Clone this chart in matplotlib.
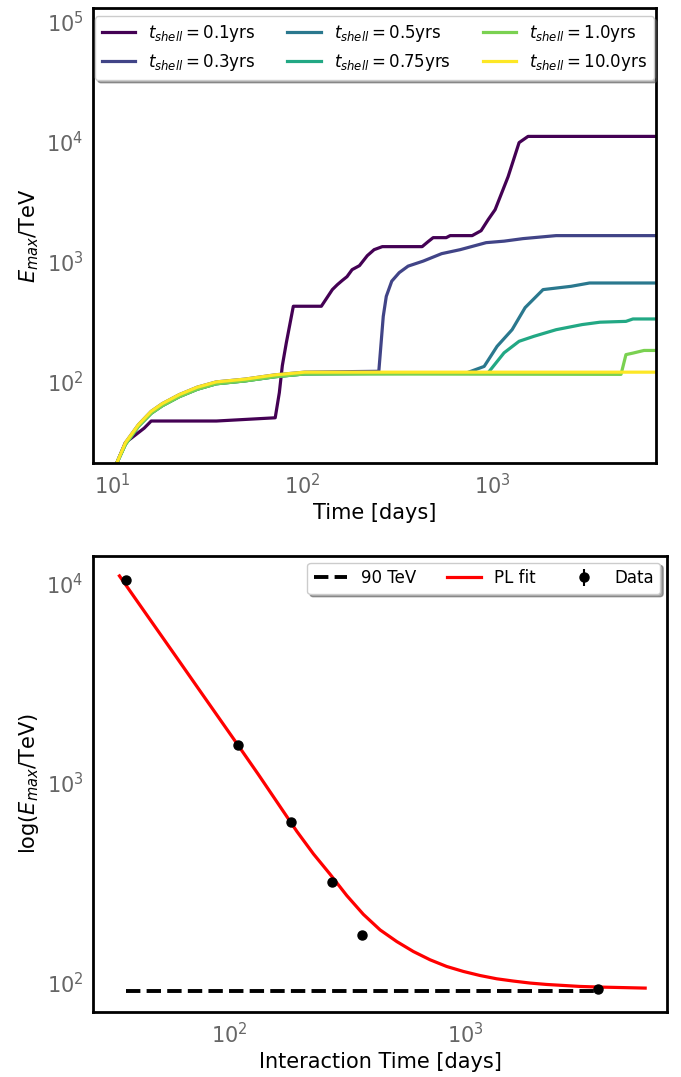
import numpy as np
import matplotlib.pyplot as plt

plt.rcParams['font.family'] = ['DejaVu Sans']
plt.rcParams['mathtext.fontset'] = 'dejavusans'

# ---------------- E_max(t) for each shell time (days, TeV) ----------------
rise_t = [10.4, 11.7, 13.7, 16.0, 18.3, 22.5, 28.0, 35.2, 50.0, 72.0, 103.0]
rise_E = [20, 31, 43.8, 56.6, 65.6, 78, 90, 99.5, 105, 114, 120]
rise_E_low = [20, 30, 42.5, 54.5, 63, 75, 86.5, 96, 101.5, 110, 116]

t_01 = [10.4, 11.7, 14.7, 16.0, 35.3, 72, 75.7, 78.5, 82.4, 89.7, 126, 144, 153,
        162, 172, 183, 200, 220, 239, 264, 428, 460, 489, 573, 601, 785, 875,
        953, 1037, 1214, 1387, 1546, 7300]
E_01 = [20, 31, 41, 47, 47, 50, 81, 136, 211, 425, 425, 585, 643, 695, 750, 858,
        926, 1122, 1259, 1334, 1334, 1468, 1585, 1585, 1648, 1648, 1812, 2239,
        2712, 5106, 9817, 11060, 11060]

t_03 = rise_t + [253, 267, 277, 296, 324, 361, 433, 542, 679, 930, 1156, 1455, 2173, 7300]
E_03 = rise_E + [122, 350, 514, 688, 810, 918, 1010, 1166, 1259, 1440, 1482, 1556, 1648, 1648]

t_05 = rise_t + [741, 908, 1062, 1274, 1492, 1855, 2604, 3260, 7300]
E_05 = rise_E_low + [119, 134, 197, 271, 414, 585, 623, 664, 664]

t_075 = rise_t + [950, 1156, 1387, 1663, 2173, 2979, 3700, 5070, 5520, 7300]
E_075 = rise_E_low + [118, 174, 217, 239, 271, 299, 313, 318, 333, 333]

t_10 = rise_t + [4775, 5070, 5520, 6310, 7300]
E_10 = rise_E_low + [115, 168, 173, 182, 182]

t_100 = rise_t + [7300]
E_100 = rise_E + [120]

shell_labels = ['0.1', '0.3', '0.5', '0.75', '1.0', '10.0']

# ---------------- E_max vs interaction time ----------------
t_int = [36.5, 109.5, 182.6, 273.9, 365.25, 3652.5]
E_data = [10330, 1549, 637, 317, 173, 92]
fit_t = [34.3, 45, 60, 76.9, 108.7, 133, 164.4, 193.8, 227.7, 267.9, 315.3,
         370.7, 436.5, 513.5, 604, 711, 836, 984, 1158, 1362, 1603, 1885, 2219,
         3069, 3733, 5800]
fit_E = [10880, 6880, 4236, 2783, 1552, 1101, 760, 570, 440, 348, 272, 219,
         183, 160, 142.6, 129.6, 120, 113.3, 108.1, 104.1, 101.4, 99.1, 97.5,
         95.3, 94.6, 93.5]
E_floor = 90

tick_gray = '#666666'


def style_axes(ax):
    ax.set_xscale('log')
    ax.set_yscale('log')
    for sp in ax.spines.values():
        sp.set_color('black')
        sp.set_linewidth(2)
    ax.tick_params(which='both', length=0, labelsize=15, labelcolor=tick_gray, pad=7)


fig = plt.figure(figsize=(6.81, 10.77), dpi=100)

# top panel
ax1 = fig.add_axes([0.1366, 0.5701, 0.8267, 0.4225])
style_axes(ax1)
series = [(t_01, E_01), (t_03, E_03), (t_05, E_05), (t_075, E_075), (t_10, E_10), (t_100, E_100)]
colors = plt.cm.viridis(np.linspace(0, 1, len(series)))
for (t, E), lab, c in zip(series, shell_labels, colors):
    ax1.plot(t, E, color=c, lw=2.3, label=r'$t_{shell} = $' + lab + 'yrs')
ax1.set_xlim(7.9, 7300)
ax1.set_ylim(21, 1.3e5)
ax1.set_xlabel('Time [days]', fontsize=15)
ax1.set_ylabel(r'$E_{max}$/TeV', fontsize=15)
ax1.legend(loc='upper center', ncol=3, fontsize=12, shadow=True, frameon=True,
           borderaxespad=0.5, columnspacing=1.9, handlelength=2.0)

# bottom panel
ax2 = fig.add_axes([0.1366, 0.0604, 0.8429, 0.4234])
style_axes(ax2)
ax2.plot([t_int[0], t_int[-1]], [E_floor, E_floor], 'k--', lw=2.8, label='90 TeV')
ax2.plot(fit_t, fit_E, color='red', lw=2.3, label='PL fit')
ax2.errorbar(t_int, E_data, yerr=np.zeros(len(E_data)), fmt='o', color='black',
             ms=6.5, label='Data')
ax2.set_xlim(26.5, 7180)
ax2.set_ylim(71, 13700)
ax2.set_xlabel('Interaction Time [days]', fontsize=15)
ax2.set_ylabel(r'log($E_{max}$/TeV)', fontsize=15)
ax2.legend(loc='upper right', ncol=3, fontsize=12, shadow=True, frameon=True,
           borderaxespad=0.4, columnspacing=1.9)

fig.savefig('out.png', dpi=100)
